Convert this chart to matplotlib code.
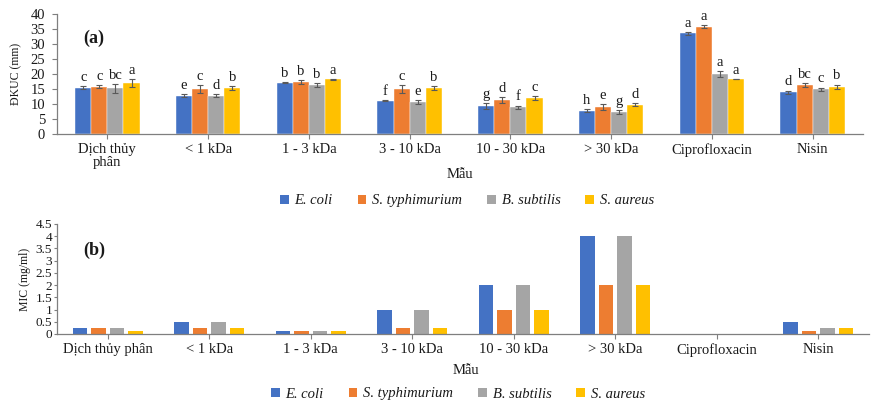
import numpy as np
import matplotlib
matplotlib.use("Agg")
import matplotlib.pyplot as plt
from matplotlib.patches import Patch
from matplotlib.ticker import FuncFormatter

plt.rcParams['font.family'] = ['Liberation Serif', 'DejaVu Serif']

# ---- data ----
categories_a = ["Dịch thủy\nphân", "< 1 kDa", "1 - 3 kDa", "3 - 10 kDa", "10 - 30 kDa",
                "> 30 kDa", "Ciprofloxacin", "Nisin"]
categories_b = ["Dịch thủy phân", "< 1 kDa", "1 - 3 kDa", "3 - 10 kDa", "10 - 30 kDa",
                "> 30 kDa", "Ciprofloxacin", "Nisin"]
strains = ["E. coli", "S. typhimurium", "B. subtilis", "S. aureus"]

# inhibition zone diameter (mm)
dkuc_ecoli = [15.4, 12.8, 17.1, 11.1, 9.2, 7.8, 33.6, 14.0]
dkuc_styph = [15.8, 15.0, 17.4, 15.0, 11.2, 9.1, 35.8, 16.4]
dkuc_bsub = [15.3, 12.8, 16.4, 10.6, 8.9, 7.4, 20.1, 15.0]
dkuc_saur = [17.0, 15.4, 18.2, 15.3, 11.9, 9.8, 18.3, 15.8]

err_ecoli = [0.5, 0.6, 0.1, 0.1, 1.0, 0.5, 0.5, 0.5]
err_styph = [0.6, 1.2, 0.7, 1.2, 1.0, 1.0, 0.6, 0.6]
err_bsub = [1.5, 0.6, 0.7, 0.7, 0.6, 0.6, 1.0, 0.5]
err_saur = [1.2, 0.6, 0.1, 0.6, 0.7, 0.6, 0.1, 0.7]

let_ecoli = ["c", "e", "b", "f", "g", "h", "a", "d"]
let_styph = ["c", "c", "b", "c", "d", "e", "a", "bc"]
let_bsub = ["bc", "d", "b", "e", "f", "g", "a", "c"]
let_saur = ["a", "b", "a", "b", "c", "d", "a", "b"]

# minimum inhibitory concentration (mg/ml)
mic_ecoli = [0.25, 0.5, 0.125, 1, 2, 4, 0, 0.5]
mic_styph = [0.25, 0.25, 0.125, 0.25, 1, 2, 0, 0.125]
mic_bsub = [0.25, 0.5, 0.125, 1, 2, 4, 0, 0.25]
mic_saur = [0.125, 0.25, 0.125, 0.25, 1, 2, 0, 0.25]

colors = ["#4472C4", "#ED7D31", "#A5A5A5", "#FFC000"]

W, H = 876, 403
fig = plt.figure(figsize=(W / 100, H / 100), dpi=100)
fig.patch.set_facecolor("white")


def px_axes(left, top, right, bottom):
    return fig.add_axes([left / W, 1 - bottom / H, (right - left) / W, (bottom - top) / H])


FS = 10.5
axis_col = "#7f7f7f"
text_col = "#1a1a1a"


def style_axes(ax):
    for s in ("top", "right"):
        ax.spines[s].set_visible(False)
    for s in ("left", "bottom"):
        ax.spines[s].set_color(axis_col)
        ax.spines[s].set_linewidth(0.9)
    ax.tick_params(colors=axis_col, labelcolor=text_col, labelsize=FS, length=3.5, width=0.8)


# ---- panel (a) ----
axa = px_axes(57, 14, 863, 134)
style_axes(axa)
x = np.arange(len(categories_a))
bw = 0.16
vals_a = [dkuc_ecoli, dkuc_styph, dkuc_bsub, dkuc_saur]
errs_a = [err_ecoli, err_styph, err_bsub, err_saur]
lets_a = [let_ecoli, let_styph, let_bsub, let_saur]
for i in range(4):
    xs = x + (i - 1.5) * bw
    axa.bar(xs, vals_a[i], width=bw, color=colors[i], edgecolor="white", linewidth=0.3, zorder=2)
    axa.errorbar(xs, vals_a[i], yerr=errs_a[i], fmt="none", ecolor="#595959",
                 elinewidth=0.8, capsize=2.2, capthick=0.8, zorder=3)
    for xi, v, e, t in zip(xs, vals_a[i], errs_a[i], lets_a[i]):
        axa.annotate(t, (xi, v + e), xytext=(0, 1.5), textcoords="offset points",
                     ha="center", va="bottom", fontsize=FS, color=text_col)
axa.set_xlim(-0.5, len(categories_a) - 0.5)
axa.set_ylim(0, 40)
axa.set_yticks(np.arange(0, 41, 5))
axa.set_xticks(x)
axa.set_xticklabels(categories_a, linespacing=1.0)
axa.tick_params(axis="y", pad=5)
axa.tick_params(axis="x", pad=3)
axa.set_ylabel("ĐKUC (mm)", fontsize=8.5, labelpad=6, color=text_col)
axa.text(0.032, 0.8, "(a)", transform=axa.transAxes, fontsize=13, fontweight="bold",
         ha="left", va="center", color=text_col)
fig.text(460 / W, 1 - 175 / H, "Mẫu", ha="center", va="center", fontsize=FS, color=text_col)

handles = [Patch(facecolor=c, edgecolor="none") for c in colors]
fig.legend(handles, strains, loc="center", bbox_to_anchor=(467 / W, 1 - 201 / H), ncol=4,
           frameon=False, prop={"style": "italic", "size": FS}, handlelength=0.6,
           handleheight=0.6, handletextpad=0.4, columnspacing=1.7, labelcolor=text_col)

# ---- panel (b) ----
axb = px_axes(57, 224, 869, 334)
style_axes(axb)
x = np.arange(len(categories_b))
bw2 = 0.143
step = 0.183
vals_b = [mic_ecoli, mic_styph, mic_bsub, mic_saur]
for i in range(4):
    xs = x + (i - 1.5) * step
    axb.bar(xs, vals_b[i], width=bw2, color=colors[i], zorder=2)
axb.set_xlim(-0.5, len(categories_b) - 0.5)
axb.set_ylim(0, 4.5)
axb.set_yticks(np.arange(0, 4.51, 0.5))
axb.yaxis.set_major_formatter(FuncFormatter(lambda v, p: f"{v:g}"))
axb.set_xticks(x)
axb.set_xticklabels(categories_b)
axb.tick_params(axis="y", pad=1, length=2.5, labelsize=9.5)
axb.tick_params(axis="x", pad=3)
axb.set_ylabel("MIC (mg/ml)", fontsize=8.5, labelpad=3, color=text_col)
axb.text(0.032, 0.76, "(b)", transform=axb.transAxes, fontsize=13, fontweight="bold",
         ha="left", va="center", color=text_col)
fig.text(466 / W, 1 - 371 / H, "Mẫu", ha="center", va="center", fontsize=FS, color=text_col)

fig.legend(handles, strains, loc="center", bbox_to_anchor=(458 / W, 1 - 394 / H), ncol=4,
           frameon=False, prop={"style": "italic", "size": FS}, handlelength=0.6,
           handleheight=0.6, handletextpad=0.4, columnspacing=1.7, labelcolor=text_col)

fig.savefig("out.png", dpi=100, facecolor="white")
